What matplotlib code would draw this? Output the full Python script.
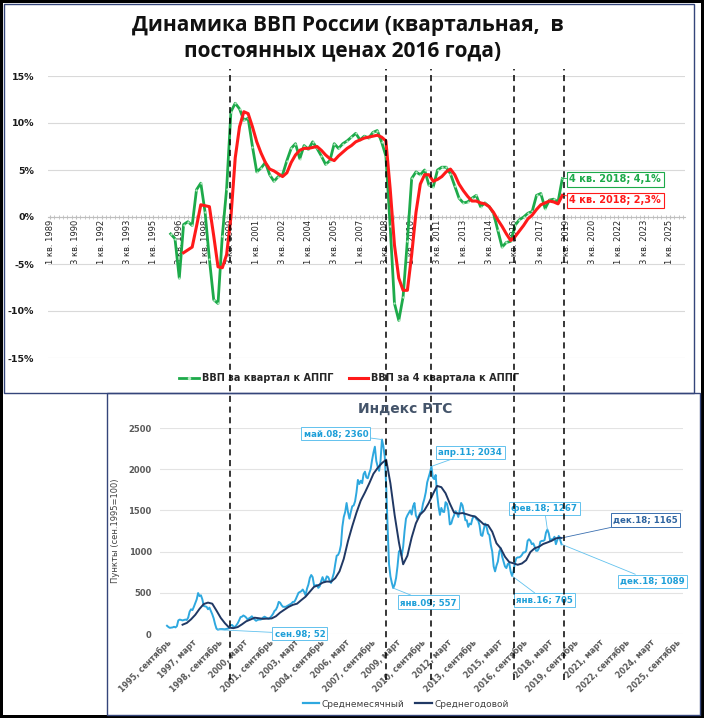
import matplotlib.pyplot as plt
import matplotlib.patches as mpatches
from matplotlib.lines import Line2D
import numpy as np

plt.rcParams['font.family'] = ['DejaVu Sans']

W, H = 704, 718

# ---------------- ВВП: квартальные данные, индекс 0 = 1 кв. 1989
years_q = list(range(1989, 2026))
quarters = ['%d кв. %d' % (q, y) for y in years_q for q in range(1, 5)]

GDP_Q_FIRST = 28    # 1 кв. 1996
gdp_quarter = [-1.8, -2.3, -6.5, -0.8, -0.5, -0.9, 2.9, 3.6, 0.5, -4.5,
               -8.8, -9.2, -2.0, 3.0, 11.2, 12.1, 11.5, 10.3, 10.5, 7.5,
               4.8, 5.2, 5.8, 4.5, 3.8, 4.3, 4.5, 6.0, 7.3, 7.8,
               6.2, 7.6, 7.2, 8.0, 7.3, 6.5, 5.6, 6.0, 7.8, 7.3,
               7.8, 8.1, 8.5, 8.9, 8.2, 8.6, 8.4, 9.0, 9.2, 8.0,
               6.5, -1.0, -9.2, -11.0, -8.5, -2.5, 4.1, 4.8, 4.5, 5.0,
               3.4, 3.2, 5.0, 5.3, 5.3, 4.6, 3.3, 2.0, 1.5, 1.6,
               2.0, 2.3, 1.1, 1.5, 1.1, 0.4, -1.4, -3.2, -2.7, -2.6,
               -0.9, -0.3, 0.0, 0.4, 0.6, 2.3, 2.5, 0.9, 1.8, 1.9,
               1.6, 4.1]

GDP_4Q_FIRST = 31   # 4 кв. 1996
gdp_four_q = [-3.8, -3.5, -3.2, -1.0, 1.3, 1.2, 1.1, -2.0, -5.3, -5.4,
              -4.0, 0.0, 6.3, 9.6, 11.2, 11.0, 9.6, 8.0, 6.8, 5.8,
              5.1, 4.9, 4.6, 4.3, 4.7, 5.8, 6.6, 7.1, 7.3, 7.3,
              7.4, 7.5, 7.1, 6.6, 6.2, 6.0, 6.5, 6.9, 7.3, 7.6,
              8.0, 8.2, 8.4, 8.5, 8.6, 8.7, 8.5, 8.1, 3.0, -3.0,
              -6.5, -7.8, -7.8, -4.0, 0.5, 3.5, 4.5, 4.5, 3.8, 4.0,
              4.3, 4.8, 5.1, 4.5, 3.5, 2.8, 2.2, 1.7, 1.7, 1.5,
              1.4, 1.1, 0.5, -0.3, -1.0, -1.8, -2.5, -2.1, -1.5, -0.9,
              -0.2, 0.2, 0.8, 1.3, 1.5, 1.7, 1.6, 1.4, 2.3]

# вертикальные отметки (в кварталах верхнего графика)
event_quarters = [41.8, 78.0, 88.4, 107.7, 119.5]

# ---------------- Индекс РТС: месячные данные, индекс 0 = сентябрь 1995
rts_month = [100, 85, 75, 78,
             80, 88, 80, 95, 165, 175, 170, 165, 170, 175, 170, 200,
             270, 300, 290, 330, 375, 420, 497, 460, 470, 420, 340, 335,
             330, 300, 320, 280, 240, 190, 120, 65, 52, 58, 60, 60,
             58, 57, 62, 65, 75, 105, 110, 90, 85, 105, 130, 165,
             205, 210, 225, 215, 200, 175, 190, 200, 215, 195, 175, 160,
             170, 175, 175, 180, 200, 210, 200, 190, 185, 200, 220, 245,
             280, 295, 330, 390, 380, 350, 330, 330, 330, 340, 350, 360,
             370, 390, 390, 420, 460, 500, 510, 520, 540, 510, 470, 550,
             600, 680, 716, 690, 590, 590, 595, 560, 580, 640, 690, 640,
             650, 700, 690, 650, 620, 680, 740, 850, 950, 960, 1000, 1080,
             1300, 1420, 1480, 1590, 1480, 1400, 1480, 1550, 1560, 1610, 1720, 1870,
             1820, 1860, 1830, 1940, 1970, 1900, 1890, 1950, 2000, 2110, 2200, 2273,
             2100, 2030, 1980, 2100, 2360, 2280, 2150, 1800, 1300, 850, 700, 620,
             557, 600, 680, 820, 1000, 1020, 950, 1060, 1250, 1400, 1440, 1470,
             1500, 1450, 1550, 1590, 1440, 1400, 1430, 1470, 1480, 1580, 1640, 1720,
             1840, 1900, 1960, 2034, 1900, 1880, 1930, 1700, 1550, 1445, 1530, 1485,
             1480, 1600, 1580, 1500, 1330, 1340, 1400, 1440, 1490, 1470, 1420, 1500,
             1590, 1560, 1470, 1380, 1380, 1300, 1340, 1330, 1400, 1430, 1420, 1390,
             1380, 1320, 1200, 1190, 1270, 1340, 1300, 1220, 1200, 1080, 1000, 820,
             760, 830, 880, 1000, 1040, 940, 880, 820, 800, 850, 860, 760,
             705, 760, 860, 920, 930, 930, 940, 960, 990, 990, 1010, 1130,
             1150, 1130, 1090, 1100, 1060, 1010, 1010, 1040, 1120, 1130, 1130, 1140,
             1230, 1267, 1220, 1130, 1150, 1150, 1180, 1090, 1140, 1190, 1145, 1089]

# среднегодовой (скользящие 12 мес.), точки раз в квартал с авг.1996 + дек.2018
rts_year = [113, 134, 178, 233, 305, 364, 381, 368, 284, 196,
            130, 77, 71, 84, 117, 154, 175, 198, 191, 184,
            187, 189, 215, 260, 295, 329, 354, 368, 412, 453,
            513, 573, 591, 623, 637, 634, 678, 761, 912, 1128,
            1308, 1473, 1618, 1718, 1827, 1945, 2016, 2074, 2115, 1827,
            1441, 1113, 846, 950, 1170, 1343, 1449, 1500, 1587, 1696,
            1797, 1782, 1708, 1584, 1473, 1461, 1468, 1453, 1436, 1425,
            1378, 1331, 1322, 1241, 1101, 1039, 938, 873, 858, 840,
            856, 896, 995, 1040, 1059, 1092, 1111, 1131, 1161, 1169,
            1165]

rts_ticklabels = ['1995, сентябрь', '1997, март', '1998, сентябрь', '2000, март',
                  '2001, сентябрь', '2003, март', '2004, сентябрь', '2006, март',
                  '2007, сентябрь', '2009, март', '2010, сентябрь', '2012, март',
                  '2013, сентябрь', '2015, март', '2016, сентябрь', '2018, март',
                  '2019, сентябрь', '2021, март', '2022, сентябрь', '2024, март',
                  '2025, сентябрь']

# подписи точек: (текст, индекс месяца, ряд, смещение в пикселях)
rts_notes = [('май.08; 2360', 152, 'm', (-46, 6)),
             ('сен.98; 52', 36, 'm', (82, -4)),
             ('янв.09; 557', 160, 'm', (35, -14)),
             ('апр.11; 2034', 187, 'm', (39, 14)),
             ('фев.18; 1267', 269, 'm', (-3, 21)),
             ('янв.16; 705', 244, 'm', (32, -24)),
             ('дек.18; 1089', 279, 'm', (91, -37)),
             ('дек.18; 1165', 279, 'y', (84, 18))]

GREEN = '#1daa4a'
RED = '#ff1a1a'
LBLUE = '#2ea8df'
NAVY = '#203864'


def fx(px):
    return px / W


def fy(py):
    return 1 - py / H


fig = plt.figure(figsize=(W / 100, H / 100), dpi=100, facecolor='black')

# белый лист внутри чёрной рамки и рамки панелей
fig.patches.append(mpatches.Rectangle((fx(3), fy(715)), fx(701) - fx(3), fy(3) - fy(715),
                                      transform=fig.transFigure, fc='white', ec='none', zorder=-5))
fig.patches.append(mpatches.Rectangle((fx(3.5), fy(393)), fx(694) - fx(3.5), fy(3.5) - fy(393),
                                      transform=fig.transFigure, fc='none', ec='#34457a', lw=1.0, zorder=1))
fig.patches.append(mpatches.Rectangle((fx(107), fy(714.5)), fx(700) - fx(107), fy(393) - fy(714.5),
                                      transform=fig.transFigure, fc='none', ec='#34457a', lw=1.0, zorder=1))

# ---------------- верхний график
ax1 = fig.add_axes([fx(48), fy(358), fx(685) - fx(48), fy(76) - fy(358)])
ax1.set_facecolor('none')
ax1.set_zorder(3)

xq = np.arange(GDP_Q_FIRST, GDP_Q_FIRST + len(gdp_quarter))
x4 = np.arange(GDP_4Q_FIRST, GDP_4Q_FIRST + len(gdp_four_q))
ax1.plot(xq, gdp_quarter, color=GREEN, lw=2.0, marker='o', ms=1.6,
         mfc='#b6ecc4', mec='none', zorder=4)
ax1.plot(x4, gdp_four_q, color=RED, lw=2.2, zorder=5)

ax1.set_xlim(-0.5, len(quarters) - 0.5)
ax1.set_ylim(-15, 15)
ax1.set_yticks(range(-15, 16, 5))
ax1.set_yticklabels(['%d%%' % v for v in range(-15, 16, 5)], fontsize=6.8,
                    fontweight='bold', color='#1a1a1a')
ax1.grid(axis='y', color='#d9d9d9', lw=0.8)
ax1.set_axisbelow(True)
for s in ['top', 'right', 'left']:
    ax1.spines[s].set_visible(False)
ax1.spines['bottom'].set_position(('data', 0))
ax1.spines['bottom'].set_color('#bfbfbf')
ax1.tick_params(axis='y', length=0, pad=10)
ax1.set_xticks(range(0, len(quarters), 6))
ax1.set_xticklabels(quarters[::6], rotation=90, fontsize=6, color='#262626')
ax1.set_xticks(range(len(quarters)), minor=True)
ax1.tick_params(axis='x', which='both', length=2.5, direction='inout',
                color='#bfbfbf', pad=1)

for q in event_quarters:
    ax1.axvline(q, ymin=-1.142, ymax=1.025, color='black', lw=1.1,
                dashes=(4, 3), clip_on=False, zorder=10)

ax1.annotate('4 кв. 2018; 4,1%', xy=(xq[-1], gdp_quarter[-1]), xytext=(53, -1),
             textcoords='offset pixels', ha='center', va='center', fontsize=7,
             fontweight='bold', color=GREEN,
             bbox=dict(boxstyle='square,pad=0.25', fc='white', ec=GREEN, lw=0.8),
             arrowprops=dict(arrowstyle='-', color=GREEN, lw=0.6, shrinkA=0, shrinkB=0),
             zorder=12)
ax1.annotate('4 кв. 2018; 2,3%', xy=(x4[-1], gdp_four_q[-1]), xytext=(53, -5),
             textcoords='offset pixels', ha='center', va='center', fontsize=7,
             fontweight='bold', color=RED,
             bbox=dict(boxstyle='square,pad=0.25', fc='white', ec=RED, lw=0.8),
             arrowprops=dict(arrowstyle='-', color=RED, lw=0.6, shrinkA=0, shrinkB=0),
             zorder=12)

h1 = Line2D([], [], color=GREEN, lw=2.0, marker='o', ms=2.5, mfc='#b6ecc4', mec='none')
h2 = Line2D([], [], color=RED, lw=2.2)
ax1.legend([h1, h2], ['ВВП за квартал к АППГ', 'ВВП за 4 квартала к АППГ'],
           loc='center', bbox_to_anchor=(0.473, -0.071), ncol=2, frameon=False,
           handlelength=2.0, handletextpad=0.3, columnspacing=1.6,
           prop=dict(size=7, weight='bold'), labelcolor='#262626')

fig.text(fx(348), fy(25), 'Динамика ВВП России (квартальная,  в',
         ha='center', va='center', fontsize=15, fontweight='bold',
         family=['Open Sans', 'DejaVu Sans'], color='#111111')
fig.text(fx(343), fy(51), 'постоянных ценах 2016 года)',
         ha='center', va='center', fontsize=15, fontweight='bold',
         family=['Open Sans', 'DejaVu Sans'], color='#111111')

# ---------------- нижний график
ax2 = fig.add_axes([fx(160), fy(634), fx(683) - fx(160), fy(428) - fy(634)])
ax2.set_facecolor('none')

xm = np.arange(len(rts_month))
xy_ = list(range(11, 279, 3)) + [279]
ax2.plot(xm, rts_month, color=LBLUE, lw=1.4, zorder=3)
ax2.plot(xy_, rts_year, color=NAVY, lw=1.4, zorder=4)

ax2.set_xlim(-4.95, 364.9)
ax2.set_ylim(0, 2500)
ax2.set_yticks(range(0, 2501, 500))
ax2.set_yticklabels([str(v) for v in range(0, 2501, 500)], fontsize=6,
                    fontweight='bold', color='#595959')
ax2.grid(axis='y', color='#e3e3e3', lw=0.8)
ax2.set_axisbelow(True)
for s in ax2.spines.values():
    s.set_visible(False)
ax2.tick_params(axis='both', length=0)
ax2.tick_params(axis='y', pad=6)
ax2.set_xticks(range(0, 361, 18))
ax2.set_xticklabels(rts_ticklabels, rotation=45, ha='right', va='top',
                    rotation_mode='anchor', fontsize=5.8, fontweight='bold',
                    color='#595959')
ax2.tick_params(axis='x', pad=3)
ax2.set_ylabel('Пункты (сен.1995=100)', fontsize=6, color='#404040', labelpad=6)

for text, idx, series, off in rts_notes:
    if series == 'm':
        yv = rts_month[idx]
        tc, ec = '#1e9fd8', '#62c2ee'
    else:
        yv = rts_year[-1]
        tc, ec = '#2e64a0', '#3a6fb0'
    ax2.annotate(text, xy=(idx, yv), xytext=off, textcoords='offset pixels',
                 ha='center', va='center', fontsize=6.2, fontweight='bold', color=tc,
                 bbox=dict(boxstyle='square,pad=0.25', fc='white', ec=ec, lw=0.7),
                 arrowprops=dict(arrowstyle='-', color=ec, lw=0.6, shrinkA=0, shrinkB=0),
                 zorder=6)

fig.text(fx(405), fy(409), 'Индекс РТС', ha='center', va='center', fontsize=10,
         fontweight='bold', color='#44546a')

g1 = Line2D([], [], color=LBLUE, lw=1.6)
g2 = Line2D([], [], color=NAVY, lw=1.6)
ax2.legend([g1, g2], ['Среднемесячный', 'Среднегодовой'], loc='center',
           bbox_to_anchor=(0.47, -0.34), ncol=2, frameon=False, handlelength=1.8,
           handletextpad=0.3, columnspacing=1.2, prop=dict(size=6.5),
           labelcolor='#404040')

fig.savefig('out.png', dpi=100, facecolor='black')
